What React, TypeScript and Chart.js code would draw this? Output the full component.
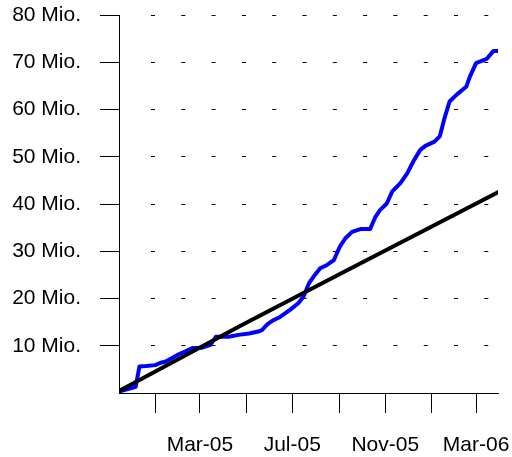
import React, { useEffect, useRef } from 'react';
import { Chart, registerables } from 'chart.js';

Chart.register(...registerables);

// x values are days counted from 1 Jan 2005
const downloadDays = [-48, -26, -21, -12, 0, 7, 13, 21, 31, 40, 49, 62, 73, 80, 97, 110, 124, 136, 141, 148, 156, 165, 178, 189, 196, 203, 209, 218, 227, 236, 244, 251, 260, 271, 284, 291, 297, 306, 313, 324, 333, 341, 350, 357, 369, 376, 382, 389, 398, 411, 416, 424, 438, 447, 453];
const downloadValues = [0.3, 1.3, 5.6, 5.7, 5.9, 6.4, 6.6, 7.3, 8.2, 8.8, 9.5, 9.6, 10.2, 11.9, 11.9, 12.3, 12.6, 13.0, 13.3, 14.5, 15.4, 16.1, 17.6, 19.0, 20.4, 23.2, 24.6, 26.4, 27.1, 28.1, 31.0, 32.7, 34.1, 34.7, 34.7, 37.3, 38.7, 40.1, 42.6, 44.4, 46.5, 49.0, 51.4, 52.3, 53.2, 54.3, 58.0, 61.7, 63.1, 64.8, 67.0, 69.8, 70.7, 72.4, 72.4];

const trendDays = [-48, 112, 244, 453];
const trendValues = [0.4, 14.2, 25.2, 42.5];

const xTickDays = [0, 59, 120, 181, 243, 304, 365, 424];
const xTickLabels = ['', 'Mar-05', '', 'Jul-05', '', 'Nov-05', '', 'Mar-06'];

const yTickValues = [10, 20, 30, 40, 50, 60, 70, 80];
const yTickLabels = ['10 Mio.', '20 Mio.', '30 Mio.', '40 Mio.', '50 Mio.', '60 Mio.', '70 Mio.', '80 Mio.'];

const X_MIN = -48;
const X_MAX = 453;

const FONT = { family: '"Liberation Sans", Arial, Helvetica, sans-serif', size: 21 };

function gridDash(): number[] {
  const d: number[] = [0, 31];
  for (let i = 0; i < 12; i++) {
    d.push(4, 26.3);
  }
  d.push(0, 600);
  return d;
}

function zeroPadding(scale: any) {
  scale.paddingTop = 0;
  scale.paddingBottom = 0;
  scale.paddingLeft = 0;
  scale.paddingRight = 0;
}

export default function App() {
  const ref = useRef<HTMLCanvasElement | null>(null);

  useEffect(() => {
    const canvas = ref.current;
    if (!canvas) return;
    const chart = new Chart(canvas, {
      type: 'line',
      data: {
        datasets: [
          {
            label: 'Trend',
            data: trendDays.map((d, i) => ({ x: d, y: trendValues[i] })),
            borderColor: '#000000',
            borderWidth: 4,
            pointRadius: 0,
            tension: 0,
            borderCapStyle: 'round',
            borderJoinStyle: 'round',
          },
          {
            label: 'Downloads',
            data: downloadDays.map((d, i) => ({ x: d, y: downloadValues[i] })),
            borderColor: '#0000ff',
            borderWidth: 4,
            pointRadius: 0,
            tension: 0,
            borderCapStyle: 'round',
            borderJoinStyle: 'round',
          },
        ],
      },
      options: {
        animation: false,
        responsive: false,
        devicePixelRatio: 1,
        layout: { padding: { top: 15, right: 14, left: 0, bottom: 0 } },
        plugins: { legend: { display: false }, tooltip: { enabled: false } },
        scales: {
          x: {
            type: 'linear',
            min: X_MIN,
            max: X_MAX,
            afterBuildTicks: (scale: any) => {
              scale.ticks = xTickDays.map((v) => ({ value: v }));
            },
            afterFit: (scale: any) => {
              scale.height = 64;
              zeroPadding(scale);
            },
            ticks: {
              autoSkip: false,
              maxRotation: 0,
              minRotation: 0,
              color: '#000000',
              font: FONT,
              padding: 20,
              callback: (_v: any, i: number) => xTickLabels[i],
            },
            grid: {
              drawOnChartArea: false,
              drawTicks: true,
              tickLength: 20,
              tickColor: '#000000',
              tickWidth: 1,
            },
            border: { display: true, color: '#000000', width: 1 },
          },
          y: {
            type: 'linear',
            min: 0,
            max: 80,
            afterBuildTicks: (scale: any) => {
              scale.ticks = yTickValues.map((v) => ({ value: v }));
            },
            afterFit: (scale: any) => {
              scale.width = 119;
              zeroPadding(scale);
            },
            ticks: {
              color: '#000000',
              font: FONT,
              padding: 19,
              callback: (_v: any, i: number) => yTickLabels[i],
            },
            grid: {
              drawOnChartArea: true,
              drawTicks: true,
              tickLength: 19,
              color: '#000000',
              lineWidth: 1,
              tickColor: '#000000',
              tickWidth: 1,
            },
            border: { display: true, color: '#000000', width: 1, dash: gridDash(), dashOffset: 0 },
          },
        },
      },
    } as any);
    return () => chart.destroy();
  }, []);

  return (
    <div style={{ position: 'absolute', left: 0, top: 0, width: 512, height: 457, background: '#ffffff' }}>
      <canvas ref={ref} width={512} height={457} style={{ display: 'block', width: 512, height: 457 }} />
    </div>
  );
}
